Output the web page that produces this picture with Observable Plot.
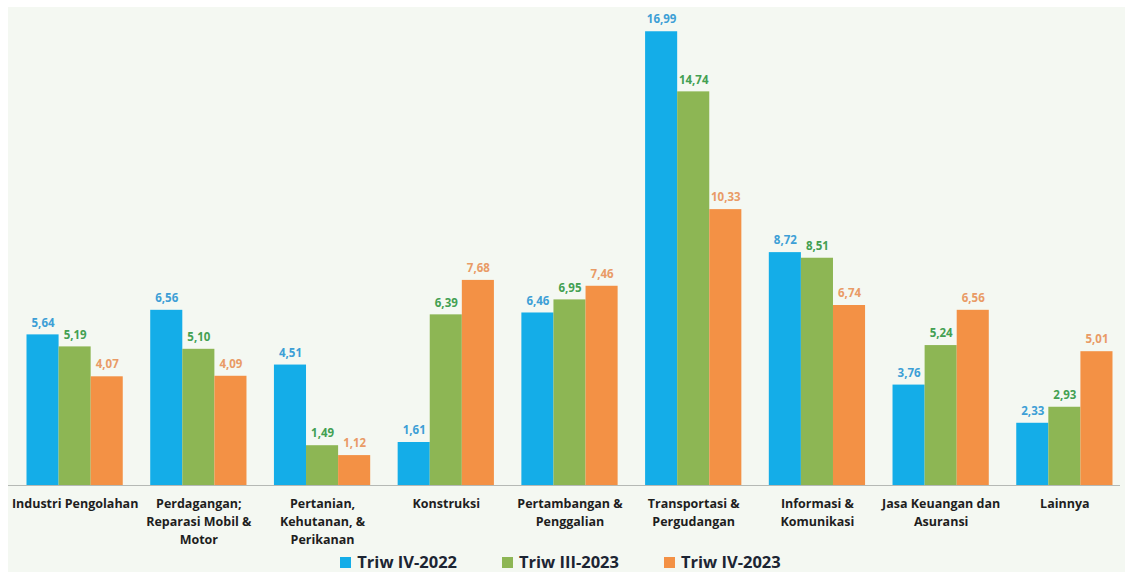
<!DOCTYPE html>
<html>
<head>
<meta charset="utf-8">
<script src="https://cdn.jsdelivr.net/npm/d3@7"></script>
<script src="https://cdn.jsdelivr.net/npm/@observablehq/plot@0.6"></script>
<style>
  html, body { margin: 0; padding: 0; background: #ffffff; overflow: hidden; }
  #wrap { margin: 7px 0 0 8px; width: 1117px; background: #f4f8f2; font-family: "Open Sans", sans-serif; }
  #legend { display: flex; justify-content: center; align-items: center; gap: 45px; height: 20px; padding-top: 5px; padding-right: 12px; }
  .item { display: flex; align-items: center; font-weight: 700; font-size: 16.5px; line-height: 20px; color: #1c2533; }
  .sw { width: 11px; height: 11px; margin-right: 6px; display: inline-block; }
</style>
</head>
<body>
<div id="wrap">
  <div id="chart"></div>
  <div id="legend"></div>
</div>
<script>
const categories = [
  "Industri Pengolahan",
  "Perdagangan;\nReparasi Mobil &\nMotor",
  "Pertanian,\nKehutanan, &\nPerikanan",
  "Konstruksi",
  "Pertambangan &\nPenggalian",
  "Transportasi &\nPergudangan",
  "Informasi &\nKomunikasi",
  "Jasa Keuangan dan\nAsuransi",
  "Lainnya"
];
const series = ["Triw IV-2022", "Triw III-2023", "Triw IV-2023"];
const triwIV2022 = [5.64, 6.56, 4.51, 1.61, 6.46, 16.99, 8.72, 3.76, 2.33];
const triwIII2023 = [5.19, 5.10, 1.49, 6.39, 6.95, 14.74, 8.51, 5.24, 2.93];
const triwIV2023 = [4.07, 4.09, 1.12, 7.68, 7.46, 10.33, 6.74, 6.56, 5.01];
const barColors = ["#14ade8", "#8db654", "#f39145"];
const labelColors = ["#3d9fd6", "#43a052", "#e99b66"];

const valuesBySeries = [triwIV2022, triwIII2023, triwIV2023];
const data = categories.flatMap((c, i) =>
  series.map((s, k) => ({ category: c, series: s, value: valuesBySeries[k][i] }))
);
const fmt = v => v.toFixed(2).replace(".", ",");

const chart = Plot.plot({
  width: 1117,
  height: 540,
  marginLeft: 18.5,
  marginRight: 12.5,
  marginTop: 24,
  marginBottom: 62,
  style: { background: "#f4f8f2", fontFamily: "'Open Sans', sans-serif", overflow: "visible" },
  fx: { domain: categories, paddingInner: 0.222, paddingOuter: 0, round: false, label: null },
  x: { domain: series, padding: 0, round: false, axis: null },
  y: { domain: [0, 17], axis: null },
  color: { domain: series, range: barColors },
  marks: [
    Plot.barY(data, { fx: "category", x: "series", y: "value", fill: "series" }),
    ...series.map((s, k) =>
      Plot.text(data.filter(d => d.series === s), {
        fx: "category", x: "series", y: "value",
        text: d => fmt(d.value),
        dy: -12, fill: labelColors[k], fontWeight: 700, fontSize: 11.5
      })
    ),
    Plot.axisFx({
      anchor: "bottom", tickSize: 0, tickPadding: 10, fontSize: 12.5,
      fontWeight: 700, lineHeight: 1.42, label: null, fill: "#1e1e1e"
    })
  ]
});
document.getElementById("chart").appendChild(chart);

// full-width baseline at y = 0 using the chart's y scale
const y0 = chart.scale("y").apply(0);
d3.select(chart).append("line")
  .attr("x1", 0).attr("x2", 1112)
  .attr("y1", y0 + 0.5).attr("y2", y0 + 0.5)
  .attr("stroke", "#b5b9b5").attr("stroke-width", 1.2);

const legend = d3.select("#legend");
series.forEach((s, k) => {
  const it = legend.append("div").attr("class", "item");
  it.append("span").attr("class", "sw").style("background", barColors[k]);
  it.append("span").text(s);
});
</script>
</body>
</html>
